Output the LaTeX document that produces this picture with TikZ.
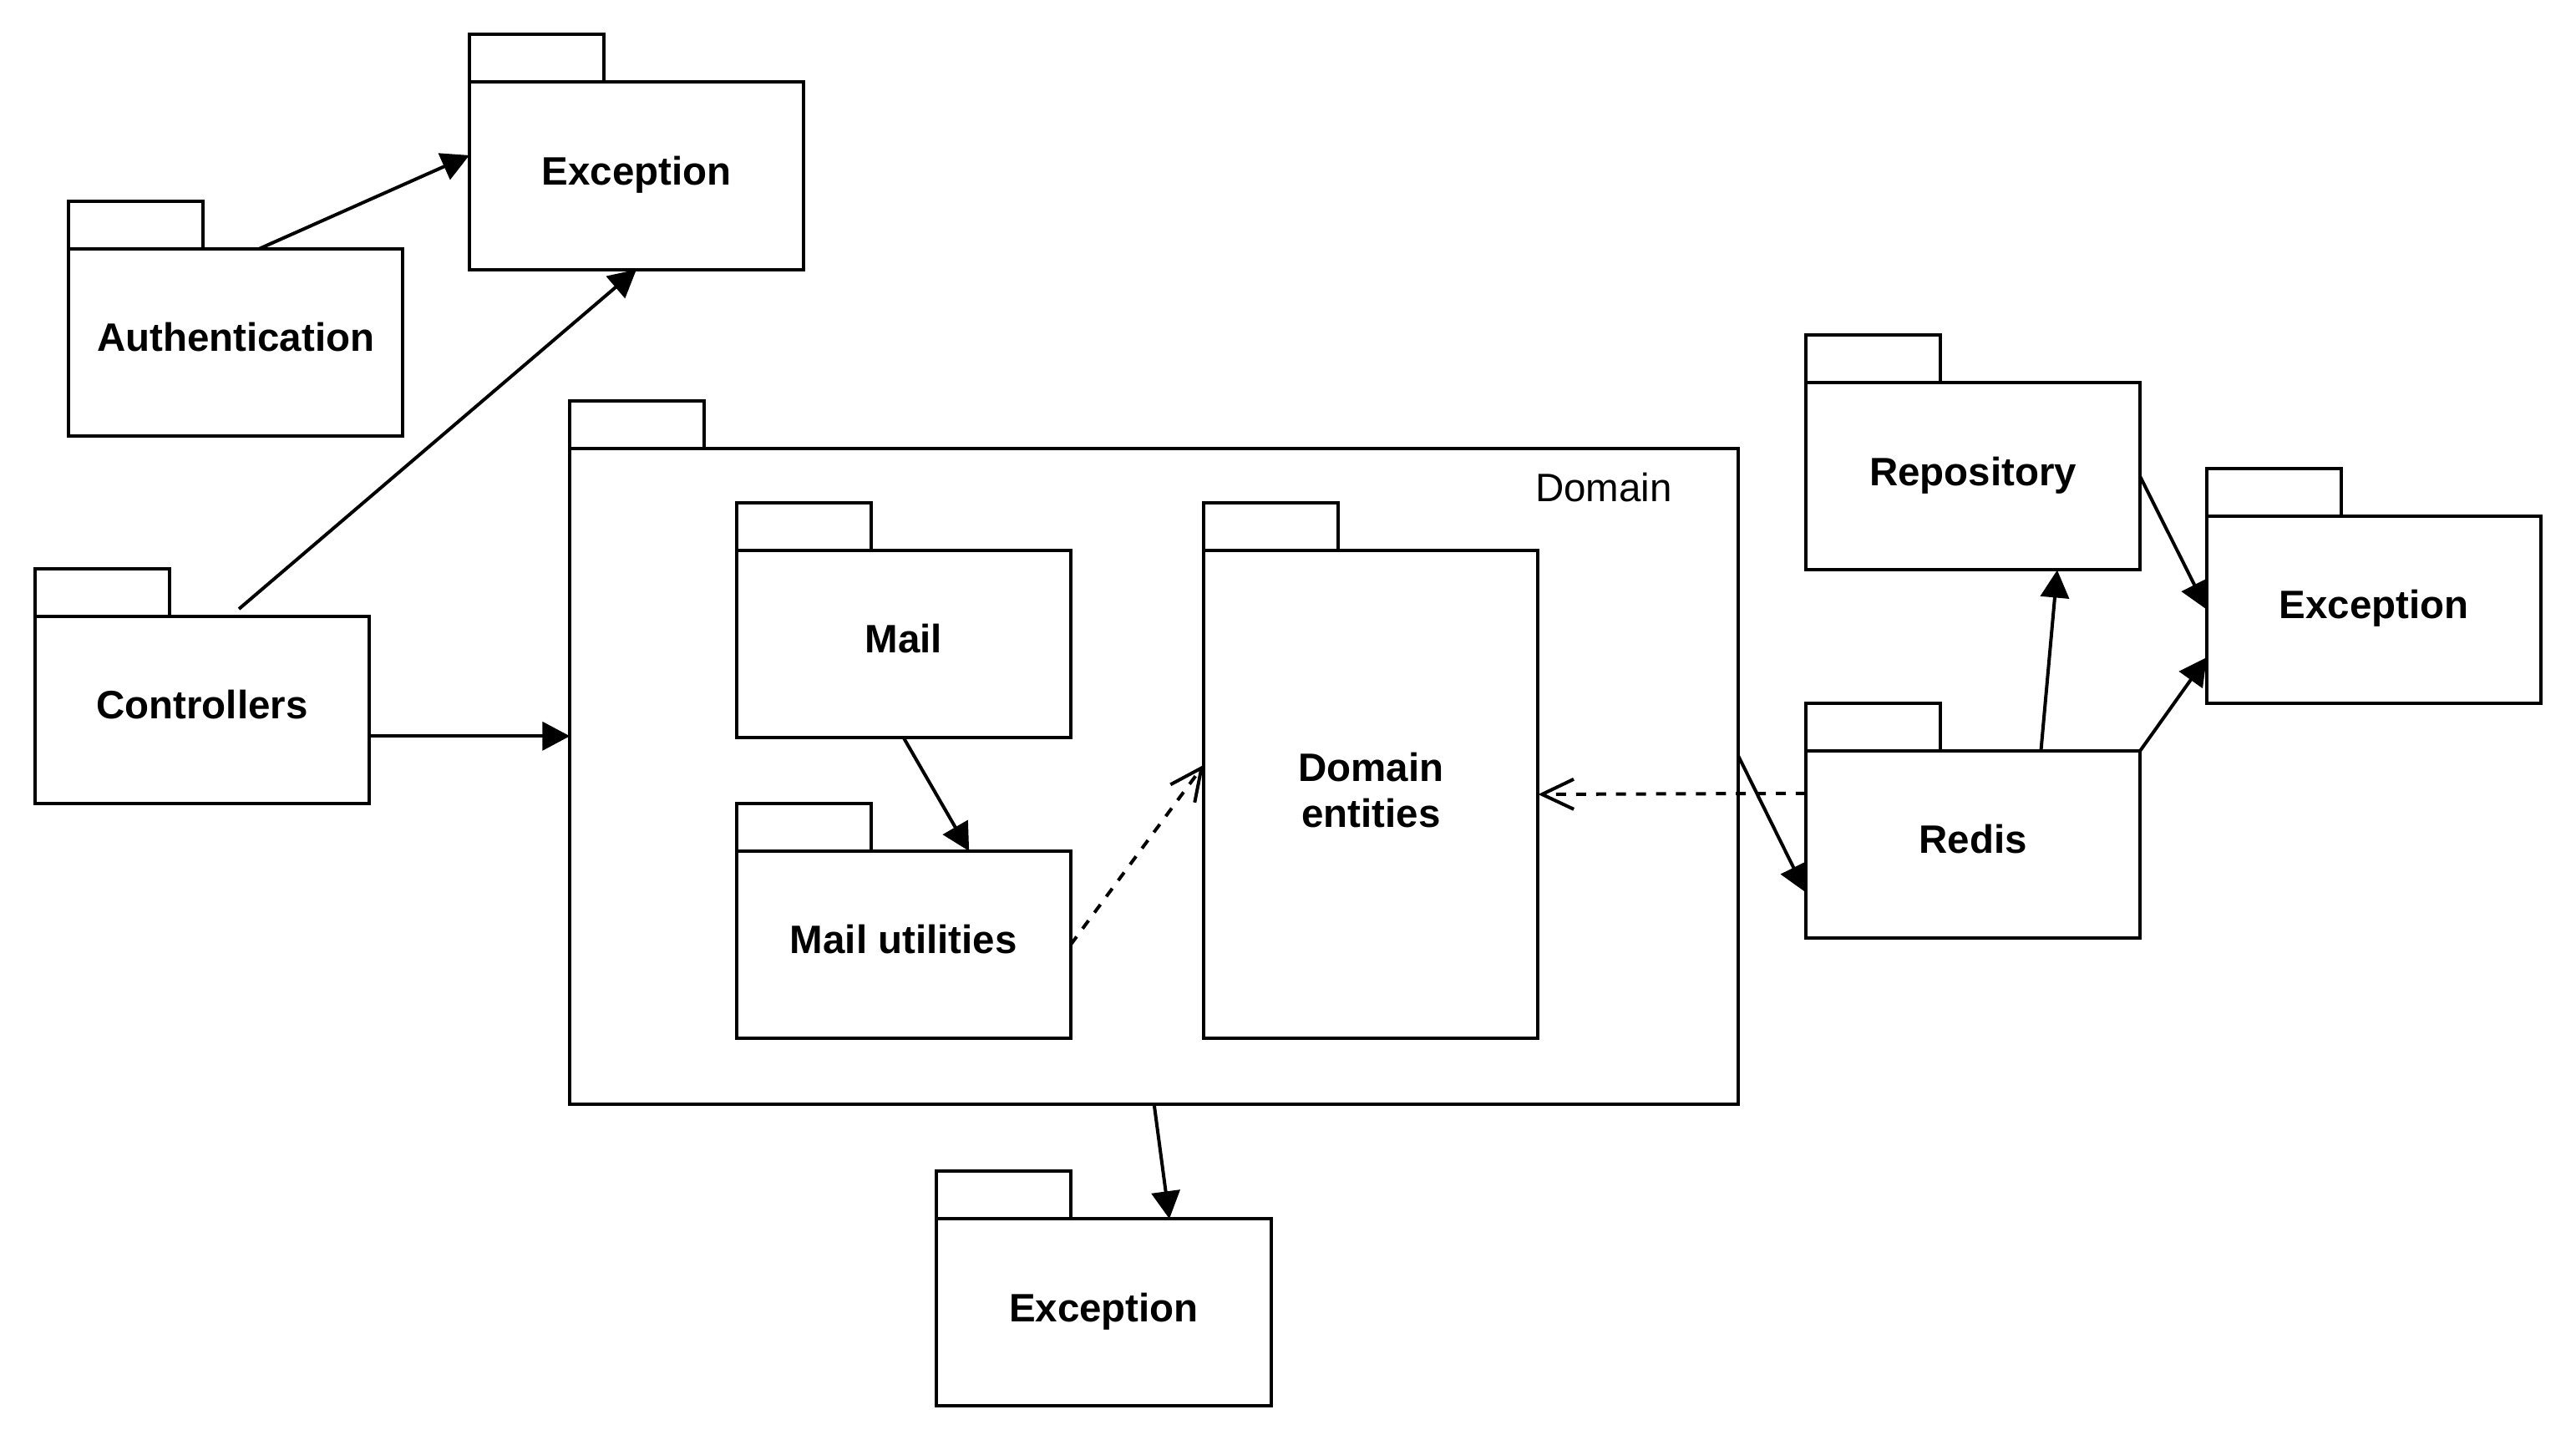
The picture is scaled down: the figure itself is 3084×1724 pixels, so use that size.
\documentclass[tikz,border=0pt]{standalone}
\usepackage{fontspec}
\setmainfont{Liberation Sans}
\usepackage{tikz}
\usetikzlibrary{arrows.meta}
\tikzset{every picture/.style={/utils/exec={\fontsize{13.5pt}{15.6pt}\selectfont}}}
\tikzstyle{line}=[line width=1.14pt]
\tikzstyle{arrow}=[line,-{Triangle[length=0.33cm,width=0.34cm]}]
\tikzstyle{dep}=[line,dash pattern=on 3.4pt off 3.4pt,-{Straight Barb[length=0.38cm,width=0.36cm]}]
\tikzstyle{pkg}=[line,draw,fill=white,inner sep=0pt,outer sep=0pt,minimum width=4cm,minimum height=2.24cm,font=\bfseries]
\tikzstyle{oneline}=[text height=0.75em,text depth=0.29em]
\tikzstyle{pkgtab}=[line,draw,fill=white,inner sep=0pt,outer sep=0pt,minimum width=1.61cm,minimum height=0.57cm,anchor=south west]
\begin{document}
\begin{tikzpicture}[x=0.01cm,y=-0.01cm]
    \fill[white] (0,0) rectangle (3084,1724);
    \useasboundingbox (0,0) rectangle (3084,1724);
    % packages
    \node[pkg,oneline] (exctop)   at (762,210.5)   {Exception};
    \node[pkg,oneline] (auth)     at (282.2,410)   {Authentication};
    \node[pkg,oneline] (ctrl)     at (241.9,849.6) {Controllers};
    \node[pkg,minimum width=13.98cm,minimum height=7.85cm] (domain) at (1381.7,929.4) {};
    \node (domain-name) at (1920,584) {Domain};
    \node[pkg,oneline] (mail)     at (1081.7,771)  {Mail};
    \node[pkg,oneline] (mailutil) at (1081.7,1131) {Mail utilities};
    \node[pkg,minimum height=5.84cm,align=center] (entities) at (1641.3,951) {Domain\\ entities\vphantom{p}};
    \node[pkg,oneline] (excbot)   at (1321.5,1571.3) {Exception};
    \node[pkg,oneline] (repo)     at (2362,570.4)  {Repository};
    \node[pkg,oneline] (redis)    at (2362,1011)   {Redis};
    \node[pkg,oneline] (excright) at (2842,729.7)  {Exception};
    \foreach \p in {exctop,auth,ctrl,domain,mail,mailutil,entities,excbot,repo,redis,excright} {
      \node[pkgtab] (\p-tab) at (\p.north west) {};
    }
    % dependencies
    \draw[arrow] (auth.76) -- (exctop.173);
    \draw[arrow,shorten <=0.13cm] (ctrl.73) -- (exctop.south);
    \draw[arrow] (ctrl.-9.5) -- (ctrl.-9.5 -| domain.west);
    \draw[arrow] (mail.south) -- (mailutil.55);
    \draw[dep] (mailutil.east) -- (entities.170);
    \draw[dep] (redis.163.6) -- (entities.east);
    \draw[arrow] (domain.2.35) -- (redis.-164.7);
    \draw[arrow] (domain.south) -- (excbot.55);
    \draw[arrow] (redis.54.3) -- (repo.-48.7);
    \draw[arrow] (repo.east) -- (excright.west);
    \draw[arrow] (redis.north east) -- (excright.-164.1);
  \end{tikzpicture}
\end{document}
